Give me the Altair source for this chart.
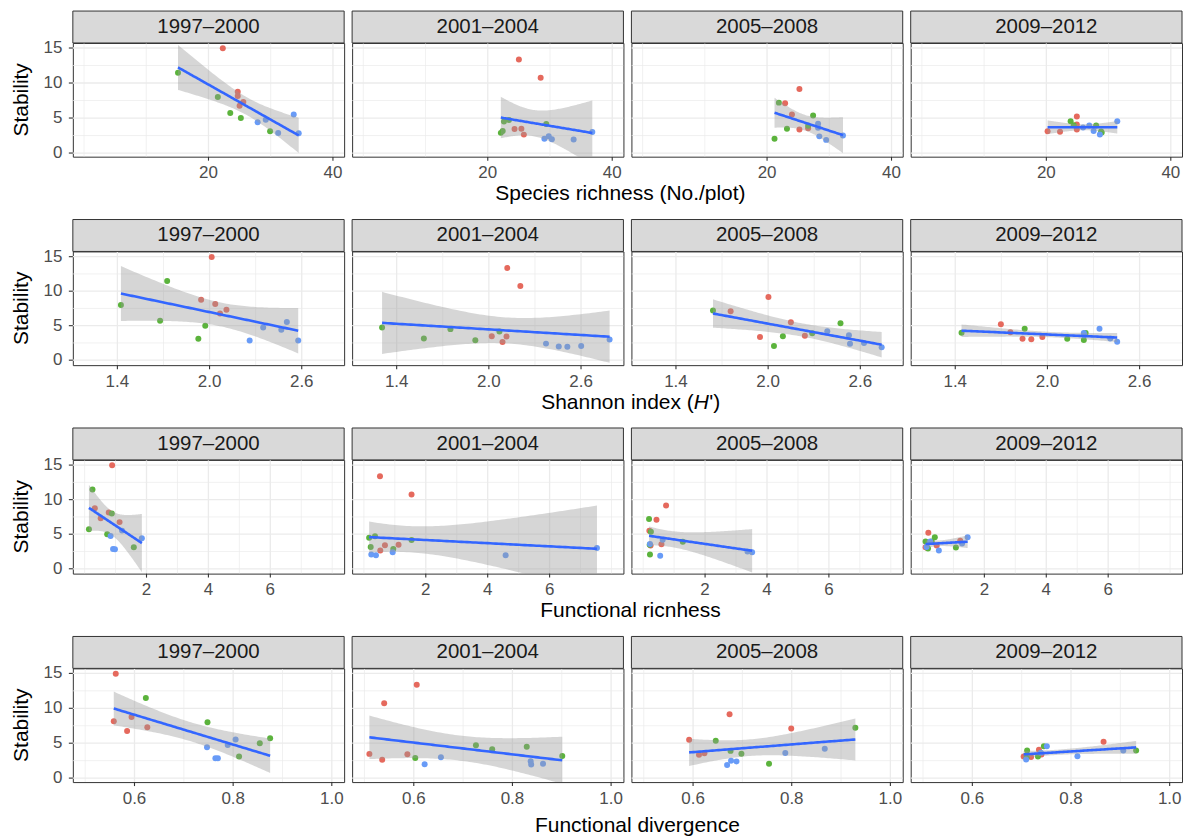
import altair as alt
import numpy as np
import pandas as pd

# ---------------- data ----------------
PERIODS = ["1997–2000", "2001–2004", "2005–2008", "2009–2012"]
GROUP = ["a"] * 5 + ["b"] * 5 + ["c"] * 5   # red, green, blue treatments

# Stability of the 15 plots in each period
stab_1997 = [14.96, 8.75, 8.15, 7.3, 6.75, 11.47, 7.99, 5.72, 5.0, 3.1, 5.52, 4.74, 4.41, 2.86, 2.84]
stab_2001 = [13.37, 10.74, 3.47, 3.42, 2.63, 4.72, 4.5, 4.15, 3.15, 2.88, 3.0, 2.4, 2.05, 1.97, 1.95]
stab_2005 = [9.15, 7.1, 5.5, 3.55, 3.35, 7.2, 5.35, 3.9, 3.48, 2.05, 4.2, 3.6, 2.5, 2.38, 1.88]
stab_2009 = [5.22, 4.06, 3.37, 3.1, 3.03, 4.55, 3.96, 3.94, 3.09, 2.92, 4.55, 3.94, 3.65, 3.14, 2.66]

# Species richness (No./plot)
sr_1997 = [22.3, 24.7, 24.7, 25.6, 25.0, 15.1, 21.5, 23.5, 25.2, 29.9, 33.7, 29.2, 27.9, 31.2, 34.5]
sr_2001 = [25.0, 28.5, 25.4, 24.3, 25.8, 23.4, 22.6, 29.4, 22.4, 22.1, 36.8, 29.8, 29.1, 30.3, 33.8]
sr_2005 = [25.2, 22.9, 24.0, 26.6, 25.2, 21.9, 27.4, 26.6, 23.2, 21.2, 28.2, 28.2, 32.2, 28.4, 29.5]
sr_2009 = [24.9, 24.9, 24.9, 20.2, 22.2, 23.9, 24.4, 28.0, 28.8, 28.9, 31.4, 26.9, 25.9, 27.6, 28.6]

# Shannon index (H')
sh_1997 = [2.014, 1.945, 2.037, 2.11, 2.068, 1.724, 1.423, 1.678, 1.972, 1.927, 2.503, 2.349, 2.467, 2.261, 2.577]
sh_2001 = [2.12, 2.205, 2.019, 2.115, 2.089, 1.305, 1.75, 2.069, 1.577, 1.912, 2.786, 2.372, 2.601, 2.455, 2.511]
sh_2005 = [2.002, 1.756, 2.148, 2.239, 1.947, 1.641, 2.471, 2.287, 2.096, 2.038, 2.385, 2.526, 2.624, 2.533, 2.739]
sh_2009 = [1.697, 1.759, 1.967, 1.838, 1.895, 1.852, 1.441, 2.249, 2.129, 2.237, 2.339, 2.237, 2.24, 2.409, 2.454]

# Functional richness
fr_1997 = [0.89, 0.33, 0.78, 0.52, 1.13, 0.255, 0.88, 0.14, 0.73, 1.59, 1.21, 0.84, 1.85, 0.92, 0.98]
fr_2001 = [0.52, 1.54, 1.12, 0.68, 0.53, 0.36, 0.17, 1.54, 0.22, 0.95, 7.53, 0.93, 0.24, 4.58, 0.39]
fr_2005 = [0.74, 0.43, 0.20, 0.59, 0.24, 0.19, 0.25, 1.28, 0.21, 0.22, 0.63, 0.22, 3.37, 3.52, 0.55]
fr_2009 = [0.19, 1.22, 0.46, 0.10, 0.15, 0.40, 0.10, 0.30, 1.08, 0.18, 1.46, 0.25, 1.28, 0.13, 0.53]

# Functional divergence
fd_1997 = [0.562, 0.594, 0.558, 0.626, 0.585, 0.623, 0.748, 0.875, 0.854, 0.812, 0.805, 0.789, 0.747, 0.764, 0.769]
fd_2001 = [0.606, 0.54, 0.51, 0.587, 0.536, 0.726, 0.829, 0.759, 0.901, 0.603, 0.655, 0.837, 0.862, 0.622, 0.838]
fd_2005 = [0.674, 0.799, 0.592, 0.623, 0.612, 0.929, 0.646, 0.676, 0.698, 0.754, 0.867, 0.787, 0.677, 0.688, 0.669]
fd_2009 = [0.866, 0.735, 0.74, 0.704, 0.719, 0.745, 0.711, 0.932, 0.733, 0.71, 0.751, 0.906, 0.739, 0.813, 0.709]

X_TITLES = ["Species richness (No./plot)", "Shannon index (H')", "Functional ricnhess", "Functional divergence"]
X_TICKS = [[20, 40], [1.4, 2.0, 2.6], [2, 4, 6], [0.6, 0.8, 1.0]]
X_MINOR = [[0, 10, 30], [1.7, 2.3], [0, 1, 3, 5, 7, 8], [0.5, 0.7, 0.9]]
X_FMT = ["d", ".1f", "d", ".1f"]
X_DOM = [[-1.8, 41.8], [1.11, 2.876], [-0.38, 8.385], [0.475, 1.025]]
Y_DOM = [[-0.52, 15.72], [-0.72, 15.76], [-0.70, 15.75], [-0.57, 15.72]]
Y_TICKS = [0, 5, 10, 15]
Y_MINOR = [2.5, 7.5, 12.5]

STAB = [stab_1997, stab_2001, stab_2005, stab_2009]
XVALS = [
    [sr_1997, sr_2001, sr_2005, sr_2009],
    [sh_1997, sh_2001, sh_2005, sh_2009],
    [fr_1997, fr_2001, fr_2005, fr_2009],
    [fd_1997, fd_2001, fd_2005, fd_2009],
]

# ---------------- style ----------------
FONT = "Liberation Sans"
W, H = 272, 114
STRIP = 32
TICK = 4
GRID = "#EBEBEB"
DARK = "#333333"
LABEL = "#4D4D4D"
COLORS = ["#E5695D", "#5BB33C", "#689BF7"]
T975 = {10: 2.2281, 11: 2.2010, 12: 2.1788, 13: 2.1604, 14: 2.1448, 15: 2.1314}
TITLE_Y = [151.5, 151.5, 151.5, 158]
TITLE_X = [549, 559, 559, 566]


def fit_band(x, y, n=80):
    """OLS fit with 95% confidence band, like geom_smooth(method='lm')."""
    x = np.asarray(x, float)
    y = np.asarray(y, float)
    k = len(x)
    xm, ym = x.mean(), y.mean()
    sxx = ((x - xm) ** 2).sum()
    b1 = ((x - xm) * (y - ym)).sum() / sxx
    b0 = ym - b1 * xm
    s = np.sqrt(((y - (b0 + b1 * x)) ** 2).sum() / (k - 2))
    t = T975[k - 2]
    xs = np.linspace(x.min(), x.max(), n)
    fit = b0 + b1 * xs
    se = s * np.sqrt(1.0 / k + (xs - xm) ** 2 / sxx)
    return pd.DataFrame({"x": xs, "fit": fit, "lo": fit - t * se, "hi": fit + t * se})


def title_layers(r):
    ty = TITLE_Y[r]
    cx = TITLE_X[r]
    base = dict(fontSize=21, color="#000000", baseline="middle", font=FONT)
    if r == 1:
        a = alt.Chart(pd.DataFrame({"t": ["Shannon index ("]})).mark_text(align="right", **base).encode(
            x=alt.value(cx + 63.5), y=alt.value(ty), text="t:N")
        b = alt.Chart(pd.DataFrame({"t": ["H"]})).mark_text(align="left", fontStyle="italic", **base).encode(
            x=alt.value(cx + 63.5), y=alt.value(ty), text="t:N")
        c = alt.Chart(pd.DataFrame({"t": ["')"]})).mark_text(align="left", **base).encode(
            x=alt.value(cx + 79.0), y=alt.value(ty), text="t:N")
        return [a, b, c]
    t = alt.Chart(pd.DataFrame({"t": [X_TITLES[r]]})).mark_text(align="center", **base).encode(
        x=alt.value(cx), y=alt.value(ty), text="t:N")
    return [t]


def panel(r, c):
    x = XVALS[r][c]
    y = STAB[c]
    pts = pd.DataFrame({"x": x, "y": y, "g": GROUP})
    band = fit_band(x, y)
    xs = alt.Scale(domain=X_DOM[r], nice=False, zero=False)
    ys = alt.Scale(domain=Y_DOM[r], nice=False, zero=False)

    def X(f):
        return alt.X(f, scale=xs, axis=None)

    def Y(f):
        return alt.Y(f, scale=ys, axis=None)

    xt = alt.Chart(pd.DataFrame({"v": X_TICKS[r]}))
    yt = alt.Chart(pd.DataFrame({"v": Y_TICKS}))

    minor_x = alt.Chart(pd.DataFrame({"v": X_MINOR[r]})).mark_rule(
        color=GRID, strokeWidth=0.7, clip=True).encode(x=X("v:Q"))
    minor_y = alt.Chart(pd.DataFrame({"v": Y_MINOR})).mark_rule(
        color=GRID, strokeWidth=0.7, clip=True).encode(y=Y("v:Q"))
    grid_x = xt.mark_rule(color=GRID, strokeWidth=1.3, clip=True).encode(x=X("v:Q"))
    grid_y = yt.mark_rule(color=GRID, strokeWidth=1.3, clip=True).encode(y=Y("v:Q"))

    points = alt.Chart(pts).mark_circle(size=36, opacity=1).encode(
        x=X("x:Q"),
        y=Y("y:Q"),
        color=alt.Color("g:N", scale=alt.Scale(domain=["a", "b", "c"], range=COLORS), legend=None),
    )
    ribbon = alt.Chart(band).mark_area(color="#999999", opacity=0.4, clip=True).encode(
        x=X("x:Q"), y=Y("lo:Q"), y2="hi:Q")
    line = alt.Chart(band).mark_line(color="#3366FF", strokeWidth=2.6, clip=True).encode(
        x=X("x:Q"), y=Y("fit:Q"))

    ticks_x = xt.mark_rule(color=DARK, strokeWidth=1.1).encode(
        x=X("v:Q"), y=alt.value(H), y2=alt.value(H + TICK))
    labels_x = xt.mark_text(fontSize=17, color=LABEL, baseline="top", align="center", font=FONT).encode(
        x=X("v:Q"), y=alt.value(H + TICK + 4.5), text=alt.Text("v:Q", format=X_FMT[r]))

    sdf = pd.DataFrame({"p": [PERIODS[c]]})
    strip_rect = alt.Chart(sdf).mark_rect(fill="#D9D9D9", stroke=DARK, strokeWidth=1).encode(
        x=alt.value(0), x2=alt.value(W), y=alt.value(-STRIP), y2=alt.value(0))
    strip_text = alt.Chart(sdf).mark_text(fontSize=20.5, color="#1A1A1A", baseline="middle",
                                          align="center", font=FONT).encode(
        x=alt.value(W / 2), y=alt.value(-STRIP / 2), text="p:N")

    layers = [minor_x, minor_y, grid_x, grid_y, points, ribbon, line, ticks_x, labels_x]
    if c == 0:
        ticks_y = yt.mark_rule(color=DARK, strokeWidth=1.1).encode(
            y=Y("v:Q"), x=alt.value(-TICK), x2=alt.value(0))
        labels_y = yt.mark_text(fontSize=17, color=LABEL, baseline="middle", align="right", font=FONT).encode(
            y=Y("v:Q"), x=alt.value(-TICK - 6.5), text=alt.Text("v:Q", format="d"))
        ytitle = alt.Chart(pd.DataFrame({"t": ["Stability"]})).mark_text(
            fontSize=21, color="#000000", angle=270, baseline="middle", align="center", font=FONT).encode(
            x=alt.value(-50.5), y=alt.value(H / 2), text="t:N")
        layers += [ticks_y, labels_y, ytitle]
    layers += [strip_rect, strip_text]
    if c == 0:
        layers += title_layers(r)
    return alt.layer(*layers).properties(width=W, height=H)


panels = [panel(r, c) for r in range(4) for c in range(4)]

chart = alt.ConcatChart(
    concat=panels,
    columns=4,
    spacing={"row": 95, "column": 8},
    bounds="flush",
    padding={"left": 3, "top": 1, "right": 0, "bottom": 0},
).configure(font=FONT).configure_view(stroke=DARK, strokeWidth=1)

chart.save("out.html", embed_options={"renderer": "svg", "actions": False})
